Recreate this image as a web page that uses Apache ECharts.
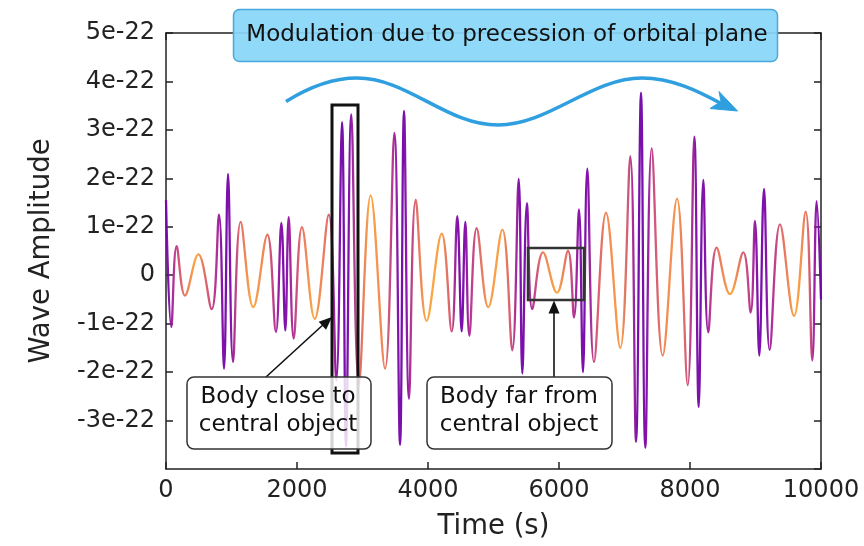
<!DOCTYPE html>
<html>
<head>
<meta charset="utf-8">
<script src="https://cdn.jsdelivr.net/npm/echarts@6/dist/echarts.min.js"></script>
<style>
html,body{margin:0;padding:0;background:#fff;}
#chart{width:864px;height:546px;}
</style>
</head>
<body>
<div id="chart"></div>
<script>
// Time of each extremum (s)
const timeS = [0, 81, 163, 290, 494, 697, 809, 886, 947, 1023, 1140, 1333, 1547, 1678, 1761, 1822, 1873, 1949, 2076, 2270, 2484, 2600, 2687, 2748, 2829, 2945, 3125, 3344, 3486, 3573, 3634, 3710, 3812, 3980, 4209, 4362, 4447, 4514, 4570, 4631, 4743, 4920, 5135, 5287, 5385, 5440, 5511, 5592, 5756, 5969, 6137, 6229, 6305, 6366, 6432, 6534, 6718, 6936, 7089, 7176, 7252, 7318, 7415, 7583, 7802, 7965, 8066, 8133, 8203, 8279, 8407, 8611, 8814, 8926, 8992, 9058, 9130, 9216, 9374, 9588, 9766, 9867, 9934, 10000];
// Wave amplitude at each extremum, in units of 1e-22
const amplitude = [1.55, -1.07, 0.60, -0.42, 0.43, -0.70, 1.25, -1.93, 2.09, -1.79, 1.10, -0.66, 0.84, -1.17, 1.08, -1.14, 1.20, -1.31, 0.99, -0.90, 1.25, -2.17, 3.16, -3.54, 3.32, -2.25, 1.65, -1.93, 2.94, -3.50, 3.39, -2.55, 1.56, -0.94, 0.86, -1.16, 1.22, -1.16, 1.10, -1.25, 0.97, -0.66, 0.94, -1.55, 1.99, -2.03, 1.49, -0.70, 0.47, -0.36, 0.50, -0.87, 1.36, -2.00, 2.20, -1.79, 1.29, -1.50, 2.46, -3.44, 3.77, -3.56, 2.62, -1.66, 1.58, -2.27, 2.86, -2.72, 1.97, -1.18, 0.57, -0.39, 0.47, -0.77, 1.12, -1.66, 1.78, -1.54, 1.05, -0.84, 1.31, -1.76, 1.53, -0.50];
// Relative orbital speed (0 = slow / far, 1 = fast / close), drives the colour
const orbitalSpeed = [1.0, 0.95, 0.7, 0.4, 0.1, 0.55, 0.75, 0.95, 1.0, 0.95, 0.45, 0.1, 0.3, 0.7, 0.9, 1.0, 0.9, 0.75, 0.4, 0.1, 0.4, 0.85, 1.0, 1.0, 0.95, 0.5, 0.1, 0.3, 0.75, 1.0, 1.0, 0.85, 0.45, 0.1, 0.15, 0.55, 0.95, 1.0, 0.95, 0.75, 0.5, 0.15, 0.15, 0.6, 0.95, 1.0, 0.95, 0.7, 0.3, 0.1, 0.45, 0.75, 0.95, 1.0, 0.95, 0.55, 0.25, 0.15, 0.7, 1.0, 1.0, 0.95, 0.6, 0.25, 0.2, 0.6, 0.95, 1.0, 0.95, 0.7, 0.35, 0.1, 0.55, 0.75, 0.95, 1.0, 0.95, 0.75, 0.4, 0.1, 0.4, 0.85, 1.0, 1.0];
const xTicks = [0, 2000, 4000, 6000, 8000, 10000];
const yTickUnit = 'e-22';

const PLASMA = ['#0d0887','#41049d','#6a00a8','#8f0da4','#b12a90','#cc4778','#e16462','#f2844b','#fca636','#fcce25','#f0f921'];
function hex2rgb(h){return [parseInt(h.slice(1,3),16),parseInt(h.slice(3,5),16),parseInt(h.slice(5,7),16)];}
function plasma(p){
  p = Math.max(0, Math.min(1, p));
  const f = p * (PLASMA.length - 1);
  const i = Math.min(Math.floor(f), PLASMA.length - 2);
  const t = f - i;
  const a = hex2rgb(PLASMA[i]), b = hex2rgb(PLASMA[i+1]);
  const c = a.map((v, k) => Math.round(v + (b[k] - v) * t));
  return 'rgb(' + c.join(',') + ')';
}
function speedColor(s){ return plasma(0.86 - 0.64 * s); }

const tMin = xTicks[0], tMax = xTicks[xTicks.length - 1];
const stops = timeS.map((t, i) => ({offset: (t - tMin) / (tMax - tMin), color: speedColor(orbitalSpeed[i])}));
const seriesData = timeS.map((t, i) => [t, amplitude[i]]);

const chart = echarts.init(document.getElementById('chart'), null, {renderer: 'canvas'});
const FONT = 'DejaVu Sans';
const axisCol = '#222';
const baseX = {
  type: 'value', min: tMin, max: tMax, interval: 2000,
  axisLine: {show: true, onZero: false, lineStyle: {color: axisCol, width: 1.5}},
  axisTick: {show: true, inside: true, length: 7, lineStyle: {color: axisCol, width: 1.5}},
  splitLine: {show: false}
};
const baseY = {
  type: 'value', min: -4, max: 5, interval: 1,
  axisLine: {show: true, onZero: false, lineStyle: {color: axisCol, width: 1.5}},
  axisTick: {show: true, inside: true, length: 7, lineStyle: {color: axisCol, width: 1.5}},
  splitLine: {show: false}
};
function arrowHead(tipX, tipY, fromX, fromY, len, half){
  const dx = tipX - fromX, dy = tipY - fromY, L = Math.hypot(dx, dy);
  const ux = dx / L, uy = dy / L;
  const bx = tipX - ux * len, by = tipY - uy * len;
  return [[tipX, tipY], [bx - uy * half, by + ux * half], [bx + uy * half, by - ux * half]];
}
const blue = '#2f9fe0';
function bez(x1, y1, cpx1, cpy1, cpx2, cpy2, x2, y2){
  return {type: 'bezierCurve', z: 100, shape: {x1, y1, cpx1, cpy1, cpx2, cpy2, x2, y2},
    style: {fill: 'none', stroke: blue, lineWidth: 3.5, lineCap: 'butt'}};
}
const option = {
  animation: false,
  backgroundColor: '#fff',
  grid: {left: 166, right: 43, top: 33, bottom: 75, containLabel: false},
  xAxis: [
    Object.assign({}, baseX, {
      position: 'bottom',
      axisLabel: {show: true, fontSize: 24, fontFamily: FONT, color: axisCol, margin: 10, formatter: v => String(v)},
      name: 'Time (s)', nameLocation: 'middle', nameGap: 44,
      nameTextStyle: {fontSize: 27.5, fontFamily: FONT, color: axisCol}
    }),
    Object.assign({}, baseX, {position: 'top', axisLabel: {show: false}})
  ],
  yAxis: [
    Object.assign({}, baseY, {
      position: 'left',
      axisLabel: {show: true, showMinLabel: false, fontSize: 24, fontFamily: FONT, color: axisCol, margin: 11,
        formatter: v => v === 0 ? '0' : (v + yTickUnit)},
      name: 'Wave Amplitude', nameLocation: 'middle', nameGap: 110,
      nameTextStyle: {fontSize: 27.5, fontFamily: FONT, color: axisCol}
    }),
    Object.assign({}, baseY, {position: 'right', axisLabel: {show: false}})
  ],
  series: [{
    type: 'line', xAxisIndex: 0, yAxisIndex: 0,
    data: seriesData, showSymbol: false, symbol: 'none',
    smooth: 0.4, z: 2,
    lineStyle: {width: 2.3, opacity: 0.95, color: new echarts.graphic.LinearGradient(0, 0, 1, 0, stops)}
  }],
  graphic: [
    // highlight boxes
    {type: 'rect', z: 100, shape: {x: 332, y: 105, width: 26, height: 348}, style: {fill: 'none', stroke: '#111', lineWidth: 3}},
    {type: 'rect', z: 100, shape: {x: 528, y: 248, width: 56, height: 52}, style: {fill: 'none', stroke: '#333', lineWidth: 2.5}},
    // arrows to highlight boxes
    {type: 'line', z: 100, shape: {x1: 266, y1: 377, x2: 325, y2: 323}, style: {stroke: '#111', lineWidth: 1.6}},
    {type: 'polygon', z: 100, shape: {points: arrowHead(332, 317, 266, 377, 13, 5.5)}, style: {fill: '#111'}},
    {type: 'line', z: 100, shape: {x1: 554, y1: 377, x2: 554, y2: 310}, style: {stroke: '#111', lineWidth: 1.6}},
    {type: 'polygon', z: 100, shape: {points: arrowHead(554, 300.5, 554, 377, 13, 5.5)}, style: {fill: '#111'}},
    // annotation boxes
    {type: 'rect', z: 101, shape: {x: 187, y: 377, width: 184, height: 72, r: 7},
      style: {fill: 'rgba(255,255,255,0.82)', stroke: '#333', lineWidth: 1.5}},
    {type: 'text', z: 102, x: 278, y: 411,
      style: {text: 'Body close to\ncentral object', font: '23px "DejaVu Sans"', fill: '#111', align: 'center', verticalAlign: 'middle', lineHeight: 28}},
    {type: 'rect', z: 101, shape: {x: 427, y: 377, width: 185, height: 72, r: 7},
      style: {fill: 'rgba(255,255,255,0.82)', stroke: '#333', lineWidth: 1.5}},
    {type: 'text', z: 102, x: 519, y: 411,
      style: {text: 'Body far from\ncentral object', font: '23px "DejaVu Sans"', fill: '#111', align: 'center', verticalAlign: 'middle', lineHeight: 28}},
    // precession label
    {type: 'rect', z: 101, shape: {x: 233.5, y: 9.5, width: 544, height: 52, r: 6},
      style: {fill: 'rgba(137,214,247,0.93)', stroke: '#4aa8de', lineWidth: 1.5}},
    {type: 'text', z: 102, x: 507, y: 35,
      style: {text: 'Modulation due to precession of orbital plane', font: '23px "DejaVu Sans"', fill: '#111', align: 'center', verticalAlign: 'middle'}},
    // wavy arrow
    bez(286, 101.5, 306, 89, 330, 78, 357, 78),
    bez(357, 78, 408, 78, 446, 125, 498, 125),
    bez(498, 125, 549, 125, 591, 78, 642, 78),
    bez(642, 78, 672, 78, 698, 91, 722, 104),
    {type: 'polygon', z: 100, shape: {points: [[737.5, 111], [719, 91.5], [721, 101.5], [710, 108.5]]},
      style: {fill: blue, stroke: blue, lineWidth: 1}}
  ]
};
chart.setOption(option);
</script>
</body>
</html>
